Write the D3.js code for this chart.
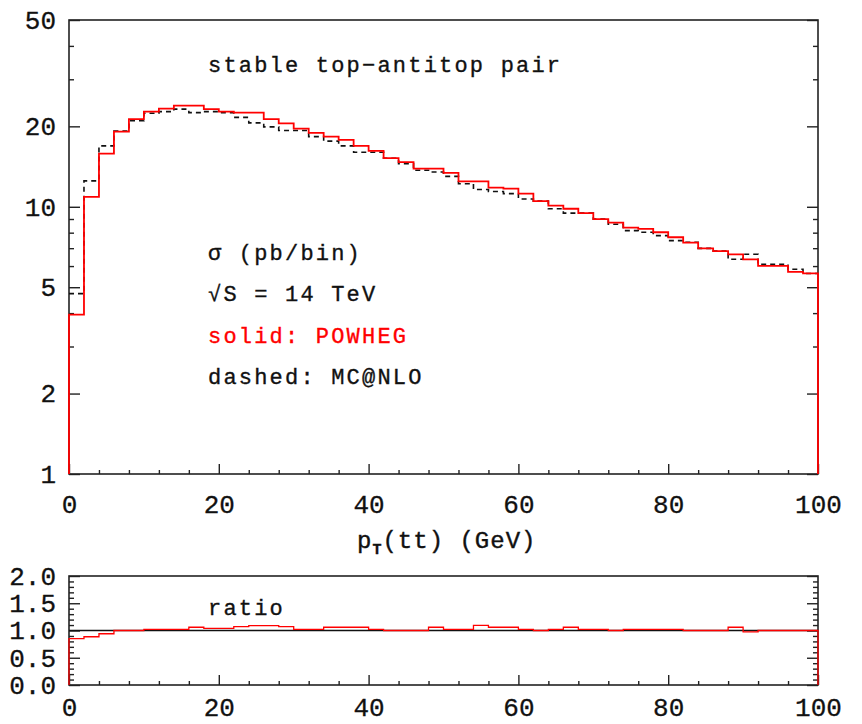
<!DOCTYPE html>
<html>
<head>
<meta charset="utf-8">
<script src="https://cdn.jsdelivr.net/npm/d3@7/dist/d3.min.js"></script>
<style>
    body { margin: 0; background: #fff; }
    text { font-family: "Liberation Mono", "DejaVu Sans Mono", monospace; fill: #111; }
</style>
</head>
<body>
<svg id="chart" width="862" height="724"></svg>
<script>
// bin lower edges in GeV (bin width 2 GeV)
const BIN_LOW = [0, 2, 4, 6, 8, 10, 12, 14, 16, 18, 20, 22, 24, 26, 28, 30, 32, 34, 36, 38,
    40, 42, 44, 46, 48, 50, 52, 54, 56, 58, 60, 62, 64, 66, 68, 70, 72, 74, 76, 78,
    80, 82, 84, 86, 88, 90, 92, 94, 96, 98];
const BIN_WIDTH = 2;

// sigma (pb/bin)
const POWHEG = [3.95, 10.9, 15.8, 19.1, 21.3, 22.7, 23.3, 23.9, 23.9, 23.2,
    22.7, 22.5, 22.5, 21.3, 20.5, 19.6, 18.9, 18.3, 17.8, 16.9,
    16.2, 15.2, 14.7, 13.9, 13.9, 13.4, 12.45, 12.45, 11.8, 11.7,
    11.2, 10.5, 10.1, 9.83, 9.47, 8.99, 8.73, 8.36, 8.26, 8.03,
    7.69, 7.34, 6.99, 6.83, 6.64, 6.36, 6.01, 6.01, 5.71, 5.63];
const MCATNLO = [4.73, 12.5, 16.9, 19.2, 21.0, 22.4, 22.7, 23.2, 22.5, 22.7,
    22.5, 21.6, 20.6, 19.9, 19.3, 19.3, 18.3, 17.6, 16.9, 16.0,
    16.0, 15.2, 14.5, 13.7, 13.5, 13.0, 12.2, 11.6, 11.4, 11.2,
    10.7, 10.5, 9.83, 9.47, 9.47, 8.99, 8.6, 8.14, 8.03, 7.8,
    7.47, 7.37, 6.99, 6.83, 6.36, 6.64, 6.09, 6.09, 5.84, 5.63];
// POWHEG / MC@NLO as drawn in the lower panel
const RATIO = [0.85, 0.885, 0.94, 1.0, 1.0, 1.02, 1.02, 1.02, 1.06, 1.04,
    1.04, 1.07, 1.09, 1.09, 1.07, 1.02, 1.02, 1.06, 1.06, 1.06,
    1.02, 1.0, 1.0, 1.0, 1.06, 1.02, 1.02, 1.095, 1.06, 1.06,
    1.02, 1.0, 1.02, 1.06, 1.02, 1.02, 1.0, 1.02, 1.02, 1.02,
    1.02, 1.0, 1.0, 1.0, 1.06, 0.975, 1.0, 1.0, 1.0, 1.0];

const X_MAJOR = [0, 20, 40, 60, 80, 100];
const X_MINOR = [4, 8, 12, 16, 24, 28, 32, 36, 44, 48, 52, 56, 64, 68, 72, 76, 84, 88, 92, 96];
const Y_MAJOR = [1, 2, 5, 10, 20, 50];
const Y_MINOR = [3, 4, 6, 7, 8, 9, 30, 40];
const R_MAJOR = [0, 0.5, 1.0, 1.5, 2.0];
const R_MINOR = [0.1, 0.2, 0.3, 0.4, 0.6, 0.7, 0.8, 0.9, 1.1, 1.2, 1.3, 1.4, 1.6, 1.7, 1.8, 1.9];

const TITLE = "stable top\u2212antitop pair";
const LEGEND_LINES = [
    { text: "\u03c3 (pb/bin)", color: "#111" },
    { text: "\u221aS = 14 TeV", color: "#111" },
    { text: "solid: POWHEG", color: "#ff0000" },
    { text: "dashed: MC@NLO", color: "#111" },
];

const svg = d3.select("#chart");
const left = 69, right = 818;
const top1 = 20, bottom1 = 474;
const top2 = 576, bottom2 = 685;

const xScale = d3.scaleLinear().domain([0, 100]).range([left, right]);
const yScale = d3.scaleLog().domain([1, 50]).range([bottom1, top1]);
const rScale = d3.scaleLinear().domain([0, 2]).range([bottom2, top2]);

// step outline of a histogram; closeTo drops it to the axis at both ends
const stepPoints = (values, closeTo) => {
    let pts = [];
    if (closeTo !== undefined) pts.push([BIN_LOW[0], closeTo]);
    values.forEach((v, i) => {
        pts.push([BIN_LOW[i], v]);
        pts.push([BIN_LOW[i] + BIN_WIDTH, v]);
    });
    if (closeTo !== undefined) pts.push([BIN_LOW[BIN_LOW.length - 1] + BIN_WIDTH, closeTo]);
    return pts;
};

const styleAxis = (g) => {
    g.select(".domain").remove();
    g.selectAll(".tick line").attr("stroke", "#222").attr("stroke-width", 1.4);
    g.selectAll(".tick text")
        .attr("fill", "#111")
        .style("font-family", '"Liberation Mono", monospace')
        .style("font-size", "26px")
        .style("stroke", "#111")
        .style("stroke-width", 0.3);
};

const drawPanel = (yTop, yBottom, yS, yMajor, yMinor, yFmt, xPad) => {
    // left axis
    svg.append("g").attr("transform", `translate(${left},0)`)
        .call(d3.axisLeft(yS).tickValues(yMajor).tickSizeInner(-11).tickSizeOuter(0)
            .tickPadding(13).tickFormat(yFmt))
        .call(styleAxis);
    svg.append("g").attr("transform", `translate(${left},0)`)
        .call(d3.axisLeft(yS).tickValues(yMinor).tickSizeInner(-5).tickSizeOuter(0).tickFormat(""))
        .call(styleAxis);
    // right axis (mirrored, no labels)
    svg.append("g").attr("transform", `translate(${right},0)`)
        .call(d3.axisRight(yS).tickValues(yMajor).tickSizeInner(-11).tickSizeOuter(0).tickFormat(""))
        .call(styleAxis);
    svg.append("g").attr("transform", `translate(${right},0)`)
        .call(d3.axisRight(yS).tickValues(yMinor).tickSizeInner(-5).tickSizeOuter(0).tickFormat(""))
        .call(styleAxis);
    // bottom axis
    svg.append("g").attr("transform", `translate(0,${yBottom})`)
        .call(d3.axisBottom(xScale).tickValues(X_MAJOR).tickSizeInner(-10).tickSizeOuter(0)
            .tickPadding(xPad).tickFormat(d3.format("d")))
        .call(styleAxis);
    svg.append("g").attr("transform", `translate(0,${yBottom})`)
        .call(d3.axisBottom(xScale).tickValues(X_MINOR).tickSizeInner(-4).tickSizeOuter(0).tickFormat(""))
        .call(styleAxis);
    // frame
    svg.append("rect")
        .attr("x", left).attr("y", yTop)
        .attr("width", right - left).attr("height", yBottom - yTop)
        .attr("fill", "none").attr("stroke", "#222").attr("stroke-width", 1.6);
};

// ---- top panel ----
drawPanel(top1, bottom1, yScale, Y_MAJOR, Y_MINOR, d3.format("d"), 21);

const histLine = d3.line().x((d) => xScale(d[0])).y((d) => yScale(d[1]));

svg.append("path")
    .attr("class", "line mcatnlo")
    .attr("d", histLine(stepPoints(MCATNLO)))
    .attr("fill", "none")
    .attr("stroke", "#111")
    .attr("stroke-width", 1.6)
    .attr("stroke-dasharray", "5,4");

svg.append("path")
    .attr("class", "line powheg")
    .attr("d", histLine(stepPoints(POWHEG, 1)))
    .attr("fill", "none")
    .attr("stroke", "#ff0000")
    .attr("stroke-width", 1.8);

const textStyle = (sel) => sel
    .style("font-size", "22px")
    .style("letter-spacing", "2.2px")
    .style("stroke-width", 0.35);

svg.append("text")
    .attr("x", 208).attr("y", 72)
    .style("stroke", "#111")
    .text(TITLE)
    .call(textStyle);

svg.selectAll(".legend-line")
    .data(LEGEND_LINES)
    .enter()
    .append("text")
    .attr("class", "legend-line")
    .attr("x", 208)
    .attr("y", (d, i) => 260 + i * 41.3)
    .style("fill", (d) => d.color)
    .style("stroke", (d) => d.color)
    .text((d) => d.text)
    .call(textStyle);

// x axis title
const xTitle = svg.append("text")
    .attr("x", 357).attr("y", 548)
    .style("font-size", "24px")
    .style("letter-spacing", "1px")
    .style("stroke", "#111").style("stroke-width", 0.4);
xTitle.append("tspan").text("p");
xTitle.append("tspan").attr("dy", 6).style("font-size", "15px").style("font-weight", "bold").text("T");
xTitle.append("tspan").attr("dy", -6).text("(tt) (GeV)");

// ---- ratio panel ----
drawPanel(top2, bottom2, rScale, R_MAJOR, R_MINOR, d3.format(".1f"), 13);

const ratioLine = d3.line().x((d) => xScale(d[0])).y((d) => rScale(d[1]));

svg.append("line")
    .attr("x1", xScale(0)).attr("x2", xScale(100))
    .attr("y1", rScale(1)).attr("y2", rScale(1))
    .attr("stroke", "#111").attr("stroke-width", 1.6);

svg.append("path")
    .attr("d", ratioLine(stepPoints(RATIO, 0)))
    .attr("fill", "none")
    .attr("stroke", "#ff0000")
    .attr("stroke-width", 1.3);

svg.append("text")
    .attr("x", 208).attr("y", 615)
    .style("stroke", "#111")
    .text("ratio")
    .call(textStyle);
</script>
</body>
</html>
